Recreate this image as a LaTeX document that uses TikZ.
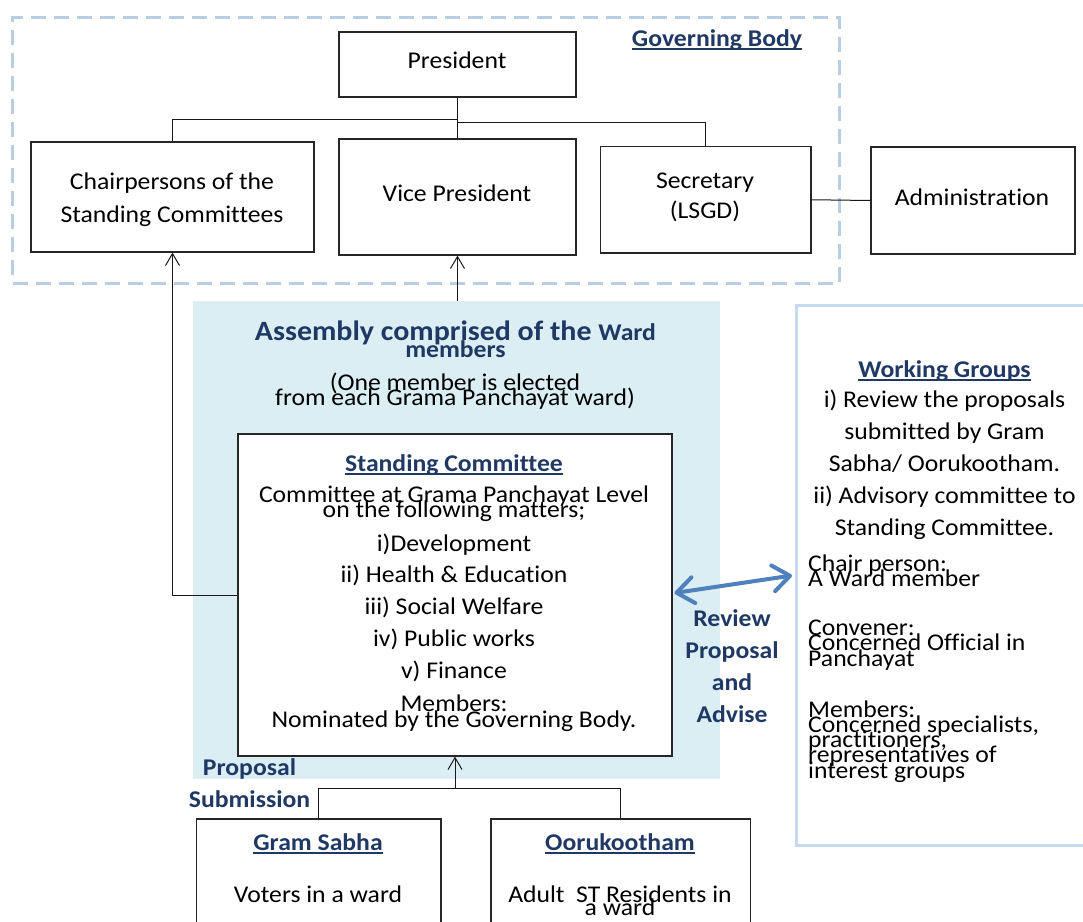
\documentclass[tikz,border=0pt]{standalone}
\usepackage{fontspec}
\setmainfont{Carlito}[FakeStretch=1.07, Ligatures=TeX, RawFeature={-liga;-clig;-dlig;-calt;-rlig}]
\usetikzlibrary{arrows.meta}

\definecolor{titleblue}{HTML}{1F3864}
\definecolor{framedash}{HTML}{B9CDE5}
\definecolor{aquafill}{HTML}{DAEEF3}
\definecolor{wgline}{HTML}{C6D9F1}
\definecolor{arrowblue}{HTML}{4F81BD}

% font size with a fixed baseline distance (lines may overlap)
\newcommand\fsz[2]{\fontsize{#1}{#2}\selectfont\lineskiplimit=-100pt\relax}
% invisible strut fixing the height of a first text line
\newcommand\fst{\rule{0pt}{20pt}}
% underline drawn close to the baseline
\newcommand\titleul[1]{\setbox0=\hbox{#1}\rlap{\rule[-3.5pt]{\wd0}{1.8pt}}\box0}

\tikzset{
  box/.style={draw=black!85, line width=1.1pt, fill=white, inner sep=0pt},
  lbl/.style={inner sep=0pt, align=center, font=\fsz{24}{32}},
  ttl/.style={lbl, text=titleblue, font=\bfseries\fsz{24}{32}},
  conn/.style={draw=black!90, line width=1pt},
  openarrow/.style={-{Straight Barb[length=12pt,width=14pt]}},
  gbframe/.style={draw=framedash, line width=3pt, dash pattern=on 15pt off 8pt, inner sep=0pt},
  bluearrow/.style={draw=arrowblue, line width=4pt, line cap=round,
    {Straight Barb[round,length=17pt,width=26pt]}-{Straight Barb[round,length=17pt,width=26pt]}}
}

\begin{document}
\begin{tikzpicture}[x=1pt,y=-1pt]
\useasboundingbox (0,0) rectangle (1083,921);
\clip (0,0) rectangle (1083,921);
\fill[white] (0,0) rectangle (1083,921);

% containers
\node[gbframe, minimum width=826.5, minimum height=266] (gb) at (425.75,150) {};
\node[fill=aquafill, inner sep=0pt, minimum width=527, minimum height=478] (asm) at (456.5,540) {};
\node[draw=wgline, line width=3pt, inner sep=0pt, minimum width=303.5, minimum height=540] (wg) at (948.25,575.5) {};

% boxes
\node[box, minimum width=237, minimum height=65] (pres) at (457.5,64.5) {};
\node[box, minimum width=283, minimum height=110] (chair) at (172.5,197) {};
\node[box, minimum width=237, minimum height=116] (vp) at (457.5,197) {};
\node[box, minimum width=210.5, minimum height=106.5] (sec) at (705.75,199.75) {};
\node[box, minimum width=204, minimum height=107] (admin) at (973,200.5) {};
\node[box, minimum width=434, minimum height=322] (sc) at (455,595) {};
\node[box, minimum width=244.5, minimum height=116] (gram) at (318.75,877) {};
\node[box, minimum width=259.5, minimum height=116] (ooru) at (620.75,877) {};

% governing body connectors
\coordinate (jl) at (457.5,119);
\coordinate (jr) at (457.5,122);
\coordinate (bj) at (455,788);
\draw[conn] (pres.south) -- (vp.north);
\draw[conn] (jl) -| (chair.north);
\draw[conn] (jr) -| (sec.north);
\draw[conn] (sec.east) -- (admin.west);
\draw[conn, openarrow] (vp.south |- asm.north) -- (vp.south);
\draw[conn, openarrow] (sc.west) -| (chair.south);
\draw[conn, openarrow] (bj) -- (sc.south);
\draw[conn] (gram.north) |- (bj) -| (ooru.north);
\draw[bluearrow] ([xshift=2pt,yshift=2pt]sc.east) -- ([xshift=-3pt]wg.west);

% texts
\node[ttl, anchor=base] (gbT) at (717,46) {\titleul{Governing Body}};
\node[lbl, anchor=base] (presT) at (457,68) {President};
\node[lbl, anchor=north, font=\fsz{24}{33}] (chairT) at (172,169) {\fst Chairpersons of the\\Standing Committees};
\node[lbl, anchor=base] (vpT) at (457,201) {Vice President};
\node[lbl, anchor=north, font=\fsz{24}{30}] (secT) at (705,168) {\fst Secretary\\(LSGD)};
\node[lbl, anchor=base] (adminT) at (972,205) {Administration};

\node[ttl, anchor=north, font=\bfseries\fsz{28}{17}] (asmT) at (455.5,316)
  {\rule{0pt}{24pt}Assembly comprised of the {\fontsize{24}{17}\selectfont Ward}\\{\fontsize{24}{17}\selectfont members}};
\node[lbl, anchor=north, font=\fsz{24}{15}] (asmS) at (455,370)
  {\fst(One member is elected\\from each Grama Panchayat ward)};

\node[lbl, anchor=north] (scT) at (454,451)
  {\fst{\bfseries\color{titleblue}\titleul{Standing Committee}}\\[-1pt]
   Committee at Grama Panchayat Level\\[-17pt]
   on the following matters;\\[2pt]
   i)Development\\[-1pt]
   ii) Health \& Education\\
   iii) Social Welfare\\
   iv) Public works\\
   v) Finance\\[1pt]
   Members:\\[-16pt]
   Nominated by the Governing Body.};

\node[ttl, anchor=north] (revT) at (732,606) {\fst Review\\Proposal\\and\\Advise};
\node[ttl, anchor=north] (propT) at (249.5,755) {\fst Proposal\\Submission};

\node[lbl, anchor=north] (wgT) at (944.5,357)
  {\fst{\bfseries\color{titleblue}\titleul{Working Groups}}\\[-2pt]
   i) Review the proposals\\
   submitted by Gram\\
   Sabha/ Oorukootham.\\
   ii) Advisory committee to\\
   Standing Committee.};
\node[lbl, align=left, anchor=north west, font=\fsz{24}{15.2}] (wgM) at (808,551)
  {\fst Chair person:\\A Ward member\\[34pt]
   Convener:\\Concerned Official in\\Panchayat\\[36pt]
   Members:\\Concerned specialists,\\practitioners,\\representatives of\\interest groups};

\node[ttl, anchor=base] (gramH) at (318,850) {\titleul{Gram Sabha}};
\node[lbl, anchor=base] (gramT) at (318,902) {Voters in a ward};
\node[ttl, anchor=base] (ooruH) at (620,850) {\titleul{Oorukootham}};
\node[lbl, anchor=north, font=\fsz{24}{13}] (ooruT) at (620,882) {\fst Adult~ ST Residents in\\a ward};
\end{tikzpicture}
\end{document}
